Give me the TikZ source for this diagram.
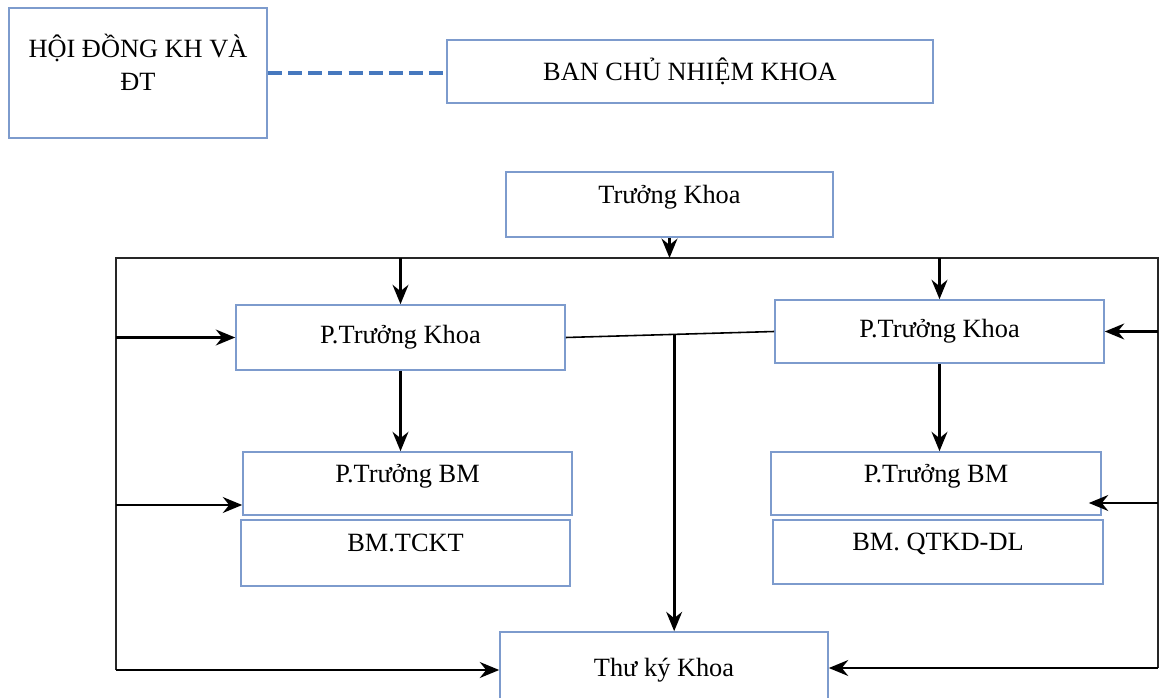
\documentclass[tikz,border=0pt]{standalone}
\usepackage{fontspec}
\setmainfont{Liberation Serif}
\usetikzlibrary{arrows.meta, positioning, calc}
\definecolor{boxblue}{RGB}{125,155,205}
\definecolor{dashblue}{RGB}{70,120,190}

\begin{document}
\begin{tikzpicture}[
        x=0.02cm, y=0.02cm, >=Stealth,
        b/.style={rectangle, draw=boxblue, line width=0.9pt, inner sep=2pt,
                  font=\fontsize{15}{19}\selectfont, align=center},
        hi/.style={text depth=12pt},
        e/.style={->, line width=1.6pt, >={Stealth[length=11pt, width=9pt]}},
        bus/.style={line width=1.2pt, draw=black!85}
    ]
        \useasboundingbox (0,0) rectangle (1162,697);

        % hàng trên
        \node[b, hi, minimum width=258*0.02cm, minimum height=130*0.02cm] (hd) at (138,624) {HỘI ĐỒNG KH VÀ\\ĐT};
        \node[b, minimum width=486*0.02cm, minimum height=63*0.02cm] (ban) at (690,625.5) {BAN CHỦ NHIỆM KHOA};
        \draw[dashblue, line width=2.2pt, dash pattern=on 8pt off 3.5pt] (hd.east) -- (hd.east -| ban.west);

        % các khối chính
        \node[b, hi, minimum width=327*0.02cm, minimum height=65*0.02cm] (tk) at (669.5,492.5) {Trưởng Khoa};
        \node[b, minimum width=329*0.02cm, minimum height=65*0.02cm] (ptkL) at (400.5,359.5) {P.Trưởng Khoa};
        \node[b, minimum width=329*0.02cm, minimum height=63*0.02cm] (ptkR) at (939.5,365.5) {P.Trưởng Khoa};
        \node[b, hi, minimum width=329*0.02cm, minimum height=63*0.02cm] (pbmL) at (407.5,213.5) {P.Trưởng BM};
        \node[b, hi, minimum width=329*0.02cm, minimum height=66*0.02cm] (bmL) at (405.5,144) {BM.TCKT};
        \node[b, hi, minimum width=330*0.02cm, minimum height=63*0.02cm] (pbmR) at (936,213.5) {P.Trưởng BM};
        \node[b, hi, minimum width=330*0.02cm, minimum height=64*0.02cm] (bmR) at (938,145) {BM. QTKD-DL};
        \node[b, minimum width=328*0.02cm, minimum height=76*0.02cm] (tky) at (664,27) {Thư ký Khoa};

        % khung đường dẫn
        \coordinate (busL) at (116,439);
        \coordinate (busR) at (1158,439);
        \coordinate (botL) at (116,27);
        \coordinate (botR) at (1158,29);
        \draw[bus] (botL) -- (busL) -- (busR) -- (botR);

        % mũi tên từ trên xuống
        \draw[e] (tk.south) -- (tk.south |- busL);
        \draw[e] (ptkL.north |- busL) -- (ptkL.north);
        \draw[e] (ptkR.north |- busL) -- (ptkR.north);
        \draw[e] (ptkL.south) -- (ptkL.south |- pbmL.north);
        \draw[e] (ptkR.south) -- (ptkR.south |- pbmR.north);

        % mũi tên từ hai bên
        \draw[e] (busL |- ptkL.west) -- (ptkL.west);
        \draw[e] (busR |- ptkR.east) -- (ptkR.east);
        \coordinate (pbmLin) at ([yshift=-0.43cm]pbmL.west);
        \coordinate (pbmRin) at ([xshift=-0.26cm, yshift=-0.39cm]pbmR.east);
        \draw[e] (busL |- pbmLin) -- (pbmLin);
        \draw[e] (busR |- pbmRin) -- (pbmRin);
        \draw[e] (botL) -- (botL -| tky.west);
        \draw[e] (botR) -- (botR -| tky.east);

        % nối hai P.Trưởng Khoa và xuống Thư ký
        \draw[line width=0.9pt] (ptkL.east) -- (ptkR.west);
        \coordinate (mid) at ($(ptkL.east)!.52!(ptkR.west)$);
        \draw[e] (mid) -- (mid |- tky.north);
    \end{tikzpicture}
\end{document}
